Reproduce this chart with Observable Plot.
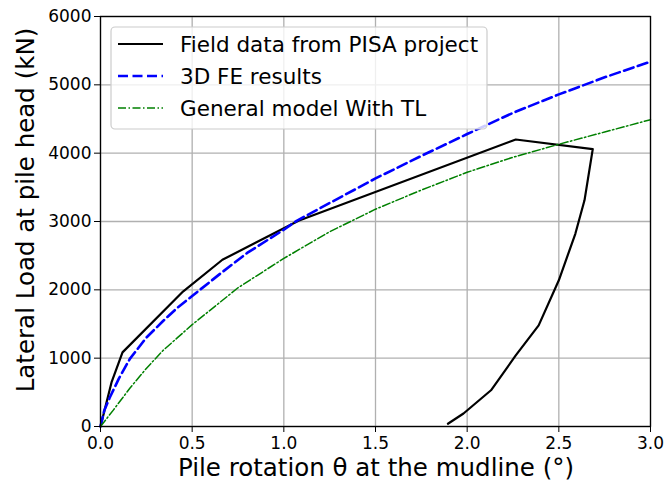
<!DOCTYPE html>
<html><head><meta charset="utf-8">
<script src="https://cdn.jsdelivr.net/npm/d3@7"></script>
<script src="https://cdn.jsdelivr.net/npm/@observablehq/plot@0.6"></script>
<style>body{margin:0;background:#fff}</style>
</head><body><div id="chart"></div>
<script>
// Field data from PISA project
const fieldX = [0, 0.06, 0.12, 0.45, 0.665, 1.08, 2.265, 2.685, 2.64, 2.59, 2.5, 2.39, 2.265, 2.13, 1.98, 1.895];
const fieldY = [0, 645, 1085, 1975, 2440, 3010, 4200, 4060, 3310, 2820, 2140, 1480, 1040, 530, 190, 40];
// 3D FE results
const feX = [0, 0.02, 0.05, 0.1, 0.16, 0.25, 0.34, 0.42, 0.5, 0.65, 0.8, 1.0, 1.07, 1.25, 1.5, 1.75, 2.0, 2.25, 2.5, 2.75, 3.0];
const feY = [0, 230, 420, 700, 990, 1300, 1540, 1740, 1910, 2230, 2540, 2880, 3010, 3270, 3630, 3960, 4280, 4590, 4860, 5110, 5340];
// General model With TL
const tlX = [0, 0.07, 0.16, 0.25, 0.34, 0.42, 0.5, 0.75, 1.0, 1.25, 1.5, 1.75, 2.0, 2.25, 2.5, 2.75, 3.0];
const tlY = [0, 240, 560, 850, 1110, 1300, 1490, 2030, 2460, 2850, 3180, 3460, 3720, 3940, 4130, 4310, 4490];

const xTicks = [0, 0.5, 1.0, 1.5, 2.0, 2.5, 3.0];
const yTicks = [0, 1000, 2000, 3000, 4000, 5000, 6000];
const seriesNames = ["Field data from PISA project", "3D FE results", "General model With TL"];
const xLabel = "Pile rotation θ at the mudline (°)";
const yLabel = "Lateral Load at pile head (kN)";

const toRows = (xs, ys) => xs.map((x, i) => ({x, y: ys[i]}));
const field = toRows(fieldX, fieldY);
const fe = toRows(feX, feY);
const tl = toRows(tlX, tlY);

const styles = [
  {stroke: "black", strokeWidth: 2.2, dash: null},
  {stroke: "blue", strokeWidth: 2.6, dash: "10,4.5"},
  {stroke: "green", strokeWidth: 1.5, dash: "8,2.5,1.5,2.5"}
];

const svgEl = Plot.plot({
  width: 666, height: 487,
  marginLeft: 100, marginRight: 16, marginTop: 16, marginBottom: 61,
  style: {fontFamily: "DejaVu Sans", background: "white", color: "black"},
  x: {domain: [0, 3]},
  y: {domain: [0, 6000]},
  marks: [
    Plot.gridX({ticks: xTicks, stroke: "#b0b0b0", strokeOpacity: 1, strokeWidth: 1.3}),
    Plot.gridY({ticks: yTicks, stroke: "#b0b0b0", strokeOpacity: 1, strokeWidth: 1.3}),
    Plot.line(field, {x: "x", y: "y", stroke: styles[0].stroke, strokeWidth: styles[0].strokeWidth}),
    Plot.line(fe, {x: "x", y: "y", stroke: styles[1].stroke, strokeWidth: styles[1].strokeWidth, strokeDasharray: styles[1].dash}),
    Plot.line(tl, {x: "x", y: "y", stroke: styles[2].stroke, strokeWidth: styles[2].strokeWidth, strokeDasharray: styles[2].dash}),
    Plot.frame({stroke: "black", strokeWidth: 1.3}),
    Plot.axisX({ticks: xTicks, tickFormat: d => d.toFixed(1), fontSize: 17, tickSize: 6, tickPadding: 4, label: null}),
    Plot.axisY({ticks: yTicks, tickFormat: d => String(d), fontSize: 17, tickSize: 6, tickPadding: 3, label: null})
  ]
});
document.getElementById("chart").appendChild(svgEl);

const svg = d3.select(svgEl);
svg.append("text")
  .attr("x", 376).attr("y", 467)
  .attr("text-anchor", "middle").attr("dominant-baseline", "central")
  .attr("font-family", "DejaVu Sans").attr("font-size", 24.5).attr("fill", "black")
  .text(xLabel);
svg.append("text")
  .attr("transform", "translate(25,210) rotate(-90)")
  .attr("text-anchor", "middle").attr("dominant-baseline", "central")
  .attr("font-family", "DejaVu Sans").attr("font-size", 24.5).attr("fill", "black")
  .text(yLabel);

const lg = svg.append("g");
lg.append("rect")
  .attr("x", 111).attr("y", 27).attr("width", 376).attr("height", 102).attr("rx", 4)
  .attr("fill", "white").attr("fill-opacity", 0.8).attr("stroke", "#cccccc").attr("stroke-width", 1.2);
const rowY = [44, 76, 108];
seriesNames.forEach((name, i) => {
  const s = styles[i];
  lg.append("line")
    .attr("x1", 118).attr("x2", 163).attr("y1", rowY[i]).attr("y2", rowY[i])
    .attr("stroke", s.stroke).attr("stroke-width", s.strokeWidth)
    .attr("stroke-dasharray", s.dash);
  lg.append("text")
    .attr("x", 180).attr("y", rowY[i]).attr("dominant-baseline", "central")
    .attr("text-anchor", "start")
    .attr("font-family", "DejaVu Sans").attr("font-size", 21.5).attr("fill", "black")
    .text(name);
});
</script>
</body></html>
